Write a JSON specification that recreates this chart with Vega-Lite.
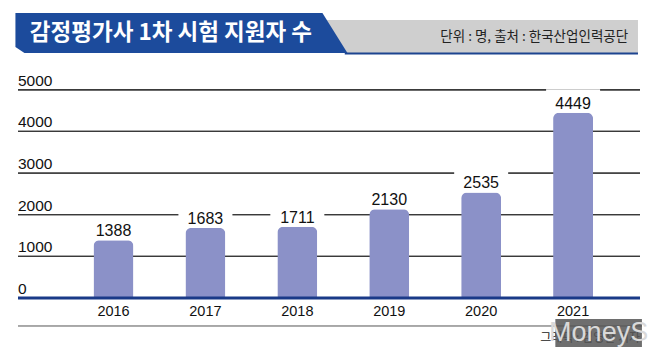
{
  "$schema": "https://vega.github.io/schema/vega-lite/v6.json",
  "width": 632,
  "height": 357,
  "autosize": {"type": "none"},
  "padding": {"left": 13, "right": 13, "top": 0, "bottom": 0},
  "background": "white",
  "config": {"view": {"stroke": null}},
  "datasets": {
    "main": [
      {"year": 2016, "value": 1388},
      {"year": 2017, "value": 1683},
      {"year": 2018, "value": 1711},
      {"year": 2019, "value": 2130},
      {"year": 2020, "value": 2535},
      {"year": 2021, "value": 4449}
    ],
    "ticks": [{"v": 0}, {"v": 1000}, {"v": 2000}, {"v": 3000}, {"v": 4000}, {"v": 5000}],
    "one": [{"k": 1}]
  },
  "data": {"name": "one"},
  "layer": [
    {
      "mark": {"type": "rect", "fill": "#cfcfcf"},
      "encoding": {
        "x": {"datum": 2018.2, "type": "quantitative", "scale": {"domain": [2014.961, 2021.728], "nice": false, "zero": false}, "axis": null},
        "x2": {"datum": 2021.706},
        "y": {"datum": 6674.7, "type": "quantitative", "scale": {"domain": [-1416.6, 7154.8], "nice": false, "zero": false}, "axis": null},
        "y2": {"datum": 5882.4}
      }
    },
    {
      "data": {"name": "ticks"},
      "mark": {"type": "rect", "fill": "#3a3a3a", "yOffset": -0.65, "y2Offset": 0.65},
      "encoding": {
        "x": {"datum": 2014.961, "type": "quantitative", "scale": {"domain": [2014.961, 2021.728], "nice": false, "zero": false}, "axis": null},
        "x2": {"datum": 2021.728},
        "y": {"field": "v", "type": "quantitative", "scale": {"domain": [-1416.6, 7154.8], "nice": false, "zero": false}, "axis": null},
        "y2": {"field": "v"}
      }
    },
    {
      "data": {"name": "ticks"},
      "mark": {"type": "rule", "stroke": "#3a3a3a", "strokeWidth": 1.3},
      "encoding": {
        "x": {"datum": 2014.961, "type": "quantitative", "scale": {"domain": [2014.961, 2021.728], "nice": false, "zero": false}, "axis": null},
        "x2": {"datum": 2021.728},
        "y": {"field": "v", "type": "quantitative", "scale": {"domain": [-1416.6, 7154.8], "nice": false, "zero": false}, "axis": null}
      }
    },
    {
      "data": {"name": "ticks"},
      "mark": {"type": "text", "font": "Liberation Sans", "fontSize": 15.5, "fill": "#111111", "align": "left", "baseline": "alphabetic", "dy": -4},
      "encoding": {
        "x": {"datum": 2014.961, "type": "quantitative", "scale": {"domain": [2014.961, 2021.728], "nice": false, "zero": false}, "axis": null},
        "y": {"field": "v", "type": "quantitative", "scale": {"domain": [-1416.6, 7154.8], "nice": false, "zero": false}, "axis": null},
        "text": {"field": "v", "type": "quantitative", "format": "d"}
      }
    },
    {
      "data": {"name": "main"},
      "mark": {"type": "rect", "fill": "white", "xOffset": -27, "x2Offset": 27, "y2Offset": -23.5},
      "encoding": {
        "x": {"field": "year", "type": "quantitative", "scale": {"domain": [2014.961, 2021.728], "nice": false, "zero": false}, "axis": null},
        "x2": {"field": "year"},
        "y": {"field": "value", "type": "quantitative", "scale": {"domain": [-1416.6, 7154.8], "nice": false, "zero": false}, "axis": null},
        "y2": {"field": "value"}
      }
    },
    {
      "data": {"name": "main"},
      "mark": {"type": "bar", "fill": "#8b91c8", "width": 40, "cornerRadiusTopLeft": 6, "cornerRadiusTopRight": 6},
      "encoding": {
        "x": {"field": "year", "type": "quantitative", "scale": {"domain": [2014.961, 2021.728], "nice": false, "zero": false}, "axis": null},
        "y": {"field": "value", "type": "quantitative", "scale": {"domain": [-1416.6, 7154.8], "nice": false, "zero": false}, "axis": null}
      }
    },
    {
      "mark": {"type": "rule", "stroke": "#1a3a88", "strokeWidth": 3},
      "encoding": {
        "x": {"datum": 2014.961, "type": "quantitative", "scale": {"domain": [2014.961, 2021.728], "nice": false, "zero": false}, "axis": null},
        "x2": {"datum": 2021.728},
        "y": {"datum": 0, "type": "quantitative", "scale": {"domain": [-1416.6, 7154.8], "nice": false, "zero": false}, "axis": null}
      }
    },
    {
      "data": {"name": "main"},
      "mark": {"type": "text", "font": "Liberation Sans Narrow, Liberation Sans", "fontSize": 16, "fill": "#111111", "align": "center", "baseline": "alphabetic", "dy": -4},
      "encoding": {
        "x": {"field": "year", "type": "quantitative", "scale": {"domain": [2014.961, 2021.728], "nice": false, "zero": false}, "axis": null},
        "y": {"field": "value", "type": "quantitative", "scale": {"domain": [-1416.6, 7154.8], "nice": false, "zero": false}, "axis": null},
        "text": {"field": "value", "type": "quantitative", "format": "d"}
      }
    },
    {
      "data": {"name": "main"},
      "mark": {"type": "text", "font": "Liberation Sans", "fontSize": 14.5, "fill": "#111111", "align": "center", "baseline": "middle"},
      "encoding": {
        "x": {"field": "year", "type": "quantitative", "scale": {"domain": [2014.961, 2021.728], "nice": false, "zero": false}, "axis": null},
        "y": {"datum": -336, "type": "quantitative", "scale": {"domain": [-1416.6, 7154.8], "nice": false, "zero": false}, "axis": null},
        "text": {"field": "year", "type": "quantitative", "format": "d"}
      }
    },
    {
      "mark": {"type": "rule", "stroke": "#555555", "strokeWidth": 1},
      "encoding": {
        "x": {"datum": 2014.961, "type": "quantitative", "scale": {"domain": [2014.961, 2021.728], "nice": false, "zero": false}, "axis": null},
        "x2": {"datum": 2021.749},
        "y": {"datum": -672.3, "type": "quantitative", "scale": {"domain": [-1416.6, 7154.8], "nice": false, "zero": false}, "axis": null}
      }
    },
    {
      "mark": {"type": "text", "text": "그래픽 : 김영찬 기자", "font": "Noto Sans CJK KR", "fontSize": 12, "fill": "#222222", "align": "right", "baseline": "middle"},
      "encoding": {
        "x": {"datum": 2021.728, "type": "quantitative", "scale": {"domain": [2014.961, 2021.728], "nice": false, "zero": false}, "axis": null},
        "y": {"datum": -960.4, "type": "quantitative", "scale": {"domain": [-1416.6, 7154.8], "nice": false, "zero": false}, "axis": null}
      }
    },
    {
      "mark": {"type": "rect", "fill": "#555555", "opacity": 0.85},
      "encoding": {
        "x": {"datum": 2020.807, "type": "quantitative", "scale": {"domain": [2014.961, 2021.728], "nice": false, "zero": false}, "axis": null},
        "x2": {"datum": 2021.749},
        "y": {"datum": -504.2, "type": "quantitative", "scale": {"domain": [-1416.6, 7154.8], "nice": false, "zero": false}, "axis": null},
        "y2": {"datum": -1176.5}
      }
    },
    {
      "mark": {"type": "text", "text": "MoneyS", "font": "Liberation Sans", "fontSize": 27, "fill": "#d9d9d9", "align": "center", "baseline": "middle"},
      "encoding": {
        "x": {"datum": 2021.278, "type": "quantitative", "scale": {"domain": [2014.961, 2021.728], "nice": false, "zero": false}, "axis": null},
        "y": {"datum": -840.3, "type": "quantitative", "scale": {"domain": [-1416.6, 7154.8], "nice": false, "zero": false}, "axis": null}
      }
    },
    {
      "mark": {"type": "rule", "stroke": "#1d4490", "strokeWidth": 2},
      "encoding": {
        "x": {"datum": 2018.516, "type": "quantitative", "scale": {"domain": [2014.961, 2021.728], "nice": false, "zero": false}, "axis": null},
        "x2": {"datum": 2021.706},
        "y": {"datum": 5870, "type": "quantitative", "scale": {"domain": [-1416.6, 7154.8], "nice": false, "zero": false}, "axis": null}
      }
    },
    {
      "mark": {"type": "point", "filled": true, "fill": "#1c4b9c", "opacity": 1, "strokeWidth": 0, "size": 110224, "shape": "M-1,-0.1205L0.8494,-0.1205L1,0.1205L-0.9458,0.1205L-1,0.0843Z"},
      "encoding": {
        "x": {"datum": 2016.739, "type": "quantitative", "scale": {"domain": [2014.961, 2021.728], "nice": false, "zero": false}, "axis": null},
        "y": {"datum": 6362.5, "type": "quantitative", "scale": {"domain": [-1416.6, 7154.8], "nice": false, "zero": false}, "axis": null}
      }
    },
    {
      "mark": {"type": "text", "text": "감정평가사 1차 시험 지원자 수", "font": "Noto Sans CJK KR", "fontSize": 22.5, "fontWeight": "bold", "fill": "white", "align": "left", "baseline": "middle"},
      "encoding": {
        "x": {"datum": 2015.09, "type": "quantitative", "scale": {"domain": [2014.961, 2021.728], "nice": false, "zero": false}, "axis": null},
        "y": {"datum": 6362.5, "type": "quantitative", "scale": {"domain": [-1416.6, 7154.8], "nice": false, "zero": false}, "axis": null}
      }
    },
    {
      "mark": {"type": "text", "text": "단위 : 명, 출처 : 한국산업인력공단", "font": "Noto Sans CJK KR", "fontSize": 13.5, "fill": "#222222", "align": "right", "baseline": "middle"},
      "encoding": {
        "x": {"datum": 2021.599, "type": "quantitative", "scale": {"domain": [2014.961, 2021.728], "nice": false, "zero": false}, "axis": null},
        "y": {"datum": 6266.5, "type": "quantitative", "scale": {"domain": [-1416.6, 7154.8], "nice": false, "zero": false}, "axis": null}
      }
    }
  ]
}
